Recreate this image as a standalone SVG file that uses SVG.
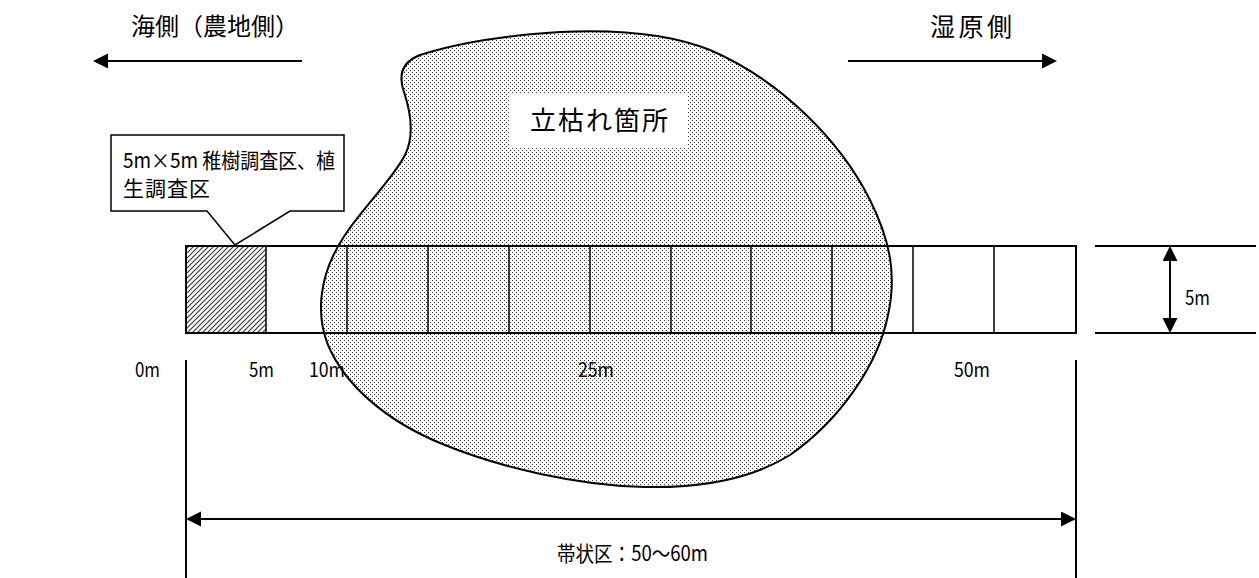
<svg xmlns="http://www.w3.org/2000/svg" width="1259" height="578" viewBox="0 0 1259 578">
<style>
text{font-family:"Noto Sans CJK JP","Noto Sans",sans-serif;fill:#000}
.h{font-size:24px}
.c{font-size:21px}
.lab{font-size:20px}
.ln{stroke:#000;stroke-width:2;fill:none}
.thin{stroke:#000;stroke-width:1.5;fill:none}
</style>
<defs>
<pattern id="dots" patternUnits="userSpaceOnUse" x="0" y="0" width="4" height="4">
<rect width="4" height="4" fill="#fff"/>
<rect x="0" y="0" width="1" height="1" fill="#333"/>
<rect x="2" y="2" width="1" height="1" fill="#333"/>
</pattern>
<pattern id="hatch" patternUnits="userSpaceOnUse" x="0" y="0" width="5" height="5">
<rect width="5" height="5" fill="#fff"/>
<path d="M-1,1 L1,-1 M0,5 L5,0 M4,6 L6,4" stroke="#333" stroke-width="1.1"/>
</pattern>
<marker id="ah" markerUnits="userSpaceOnUse" markerWidth="16" markerHeight="16" refX="5" refY="7.5" orient="auto-start-reverse" viewBox="0 0 16 16">
<path d="M0,0 L15,7.5 L0,15 Z" fill="#000"/>
</marker>
</defs>
<rect width="1259" height="578" fill="#fff"/>

<g id="header-left">
<text class="h" x="131" y="35" textLength="168" lengthAdjust="spacing">海側（農地側）</text>
</g>
<g id="header-right">
<text x="930" y="36" style="font-size:25px" textLength="82" lengthAdjust="spacing">湿原側</text>
</g>

<g id="strip-base">
<rect x="186" y="246" width="890" height="87" fill="#fff"/>
<rect x="186" y="246" width="80" height="87" fill="url(#hatch)"/>
</g>

<g id="dead-area">
<path d="M560,32 C620,29 670,34 710,50 C780,80 840,140 870,200 C890,240 897,275 888,315 C878,365 840,420 790,455 C750,480 700,488 645,487 C580,486 500,468 440,443 C385,420 345,385 328,345 C316,315 318,275 345,235 C365,205 392,180 405,155 C415,135 410,110 404,92 C398,75 402,62 420,55 C460,42 510,35 560,32 Z" fill="url(#dots)" stroke="#000" stroke-width="2"/>
<rect x="510" y="94" width="178" height="54" fill="#fff"/>
<text x="530" y="130" style="font-size:26px" letter-spacing="2">立枯れ箇所</text>
</g>

<g id="strip">
<rect class="ln" x="186" y="246" width="890" height="87"/>
<path class="thin" d="M266,246V333 M347,246V333 M428,246V333 M509,246V333 M590,246V333 M671,246V333 M751,246V333 M832,246V333 M913,246V333 M994,246V333"/>
</g>

<g id="callout">
<path d="M111,135 H344 V211 H290 L235,245 L207,211 H111 Z" fill="#fff" stroke="#000" stroke-width="1.5"/>
<text class="c" x="123" y="168" textLength="212" lengthAdjust="spacingAndGlyphs">5m×5m 稚樹調査区、植</text>
<text class="c" x="123" y="196" letter-spacing="1">生調査区</text>
</g>

<g id="scale-labels">
<text class="lab" x="135" y="377" textLength="25" lengthAdjust="spacingAndGlyphs">0m</text>
<text class="lab" x="249" y="377" textLength="25" lengthAdjust="spacingAndGlyphs">5m</text>
<text class="lab" x="309" y="377" textLength="36" lengthAdjust="spacingAndGlyphs">10m</text>
<text class="lab" x="578" y="377" textLength="36" lengthAdjust="spacingAndGlyphs">25m</text>
<text class="lab" x="954" y="377" textLength="36" lengthAdjust="spacingAndGlyphs">50m</text>
<text class="lab" x="1185" y="305" textLength="25" lengthAdjust="spacingAndGlyphs">5m</text>
<text x="557" y="561" style="font-size:21px" textLength="151" lengthAdjust="spacingAndGlyphs">帯状区：50〜60m</text>
</g>

<g id="connectors">
<line class="ln" x1="302" y1="61" x2="103" y2="61" marker-end="url(#ah)"/>
<line class="ln" x1="848" y1="61" x2="1047" y2="61" marker-end="url(#ah)"/>
<line class="ln" x1="1095" y1="246" x2="1256" y2="246"/>
<line class="ln" x1="1095" y1="333" x2="1256" y2="333"/>
<line class="ln" x1="1170" y1="256" x2="1170" y2="323" marker-start="url(#ah)" marker-end="url(#ah)"/>
<line class="ln" x1="186" y1="360" x2="186" y2="578"/>
<line class="ln" x1="1076" y1="360" x2="1076" y2="578"/>
<line class="ln" x1="196" y1="519" x2="1066" y2="519" marker-start="url(#ah)" marker-end="url(#ah)"/>
</g>
</svg>
